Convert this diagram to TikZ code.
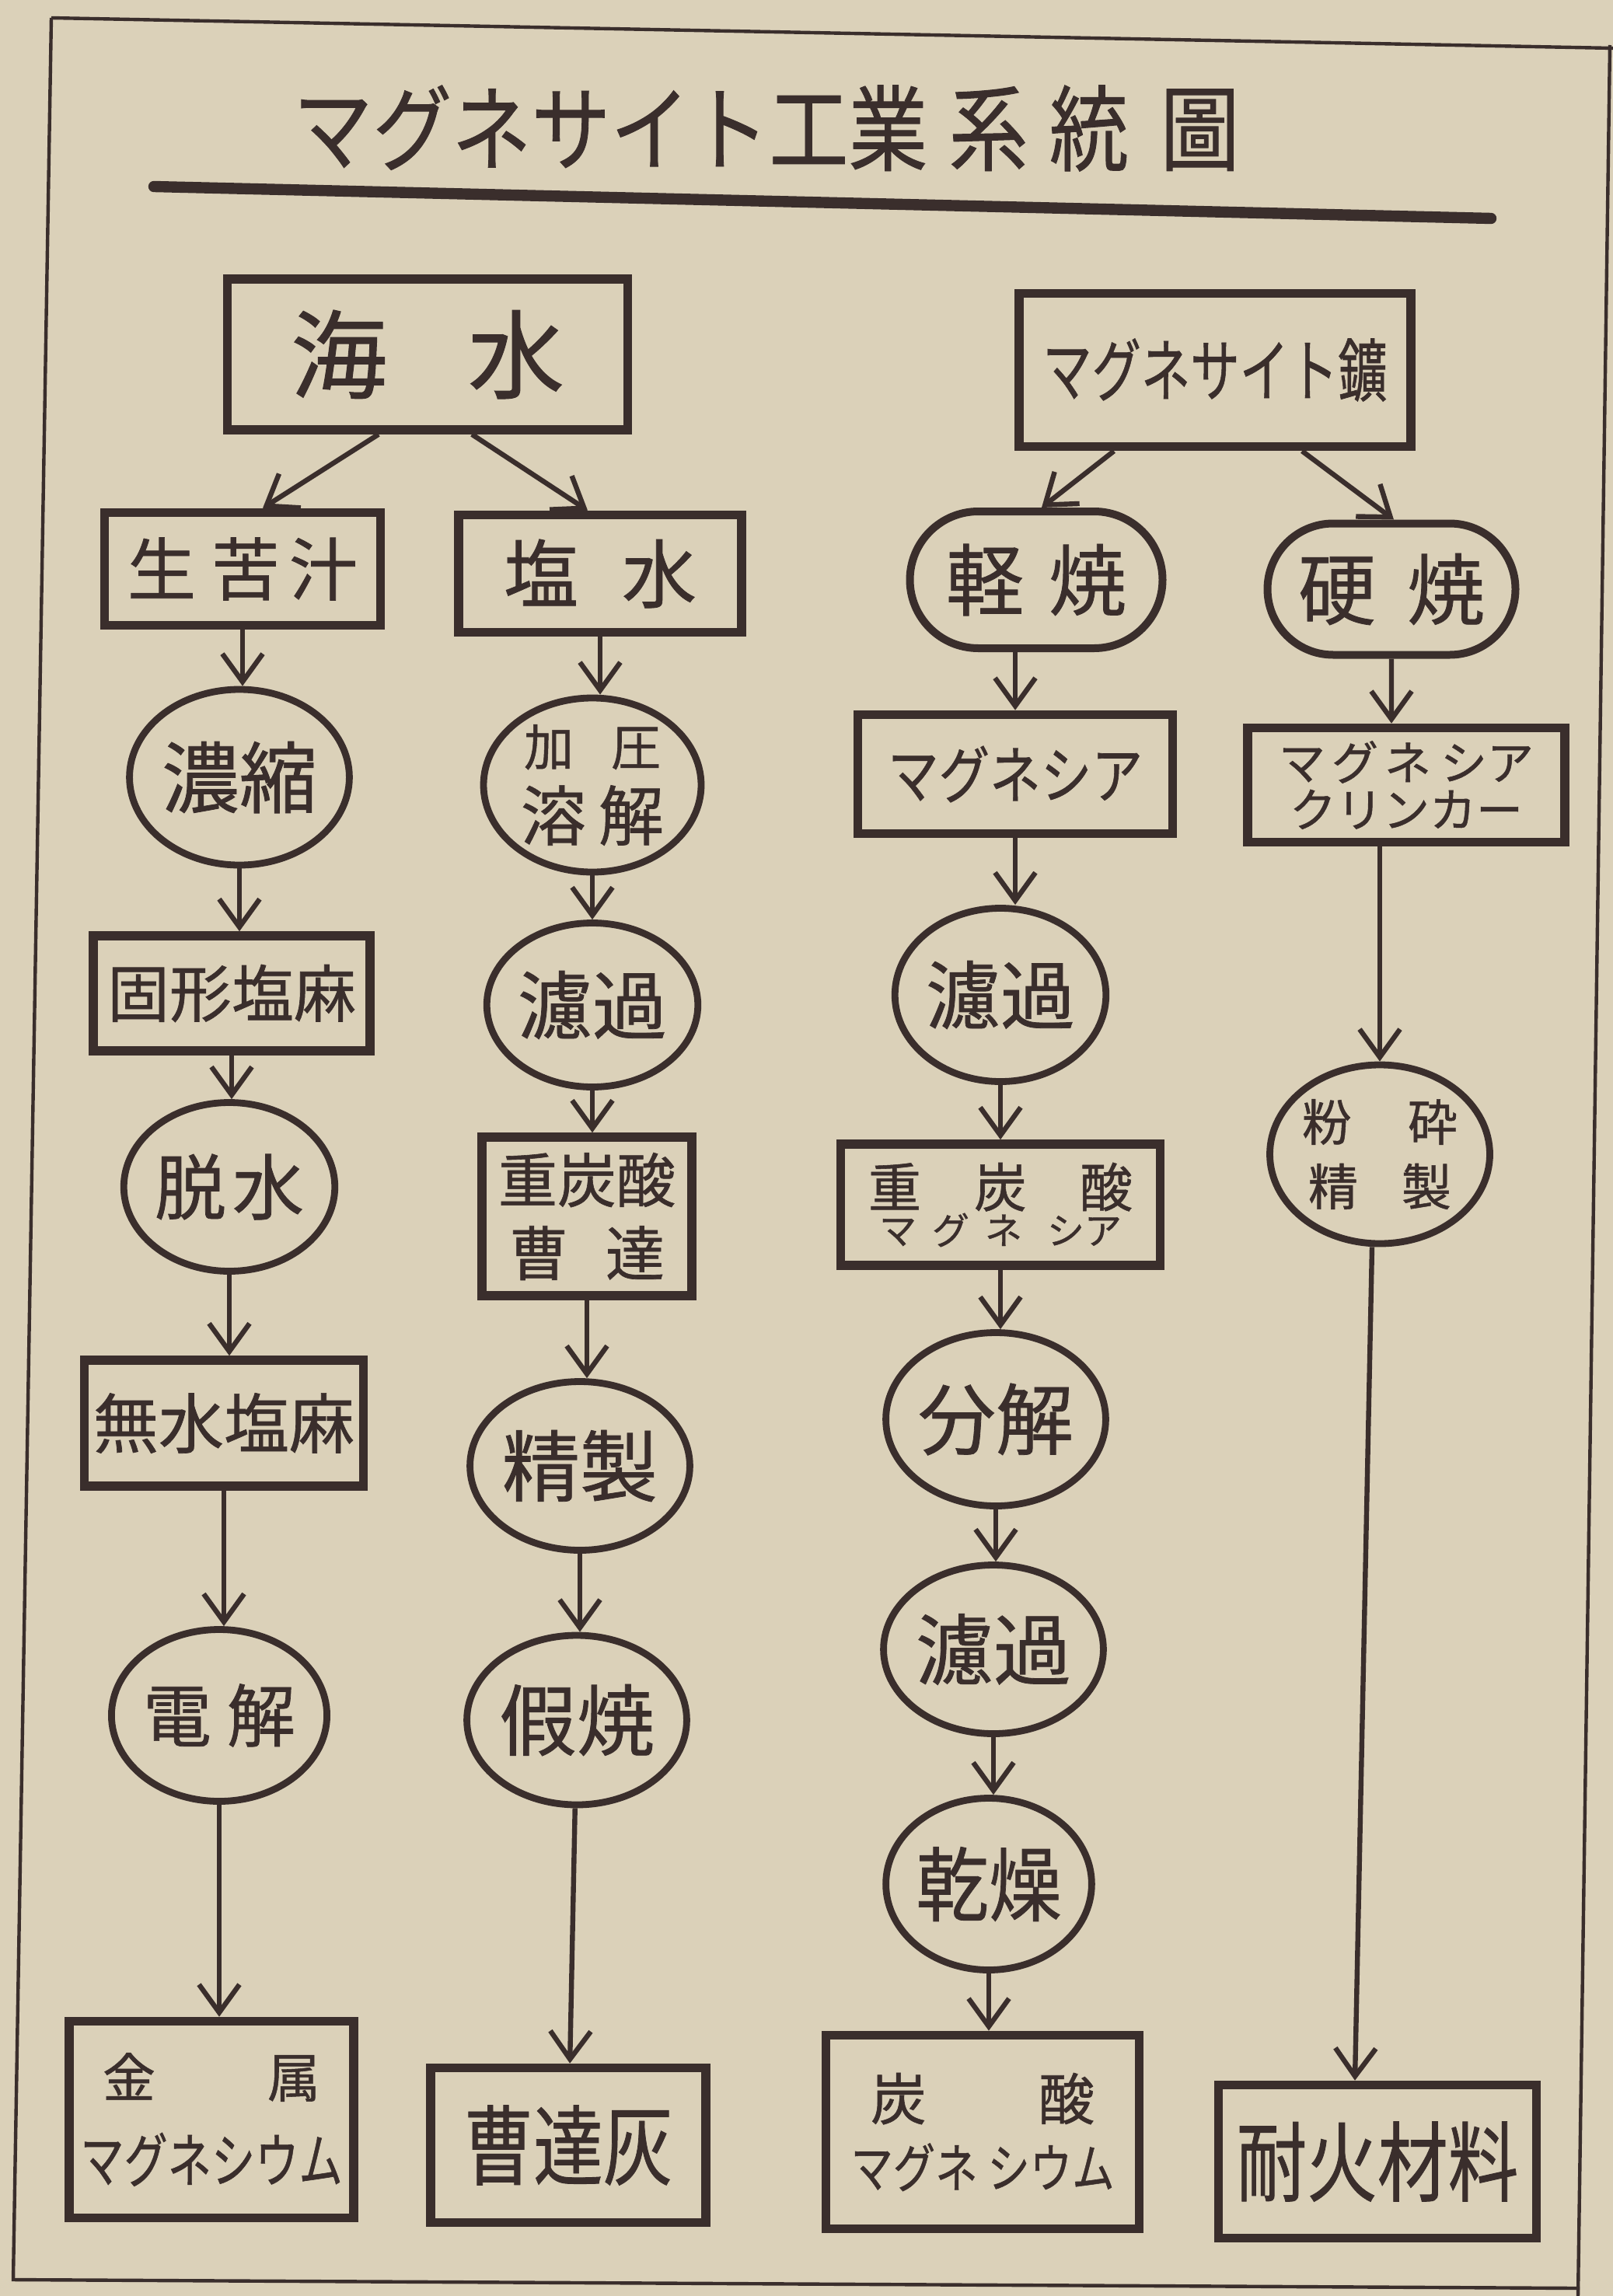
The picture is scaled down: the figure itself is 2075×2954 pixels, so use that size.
\documentclass[tikz,border=0pt]{standalone}
\usepackage{fontspec}
\usepackage{graphicx}
\setmainfont{Noto Sans CJK JP}[FakeBold=0.8]
\usetikzlibrary{arrows.meta,shapes.geometric,shapes.misc}
\definecolor{bgc}{RGB}{219,209,185}
\definecolor{inkc}{RGB}{58,46,44}
\newcommand{\fsz}[1]{\fontsize{#1pt}{#1pt}\selectfont}
\newcommand{\hs}[1]{\hspace{#1pt}}
\newcommand{\xs}[2]{\scalebox{#1}[1]{#2}}
\tikzset{
  bx/.style 2 args={draw=inkc, line width=2.9pt, rectangle, inner sep=0pt,
    minimum width=#1*0.25pt, minimum height=#2*0.25pt, align=center},
  el/.style 2 args={draw=inkc, line width=2.2pt, ellipse, inner sep=0pt,
    minimum width=#1*0.25pt, minimum height=#2*0.25pt, align=center},
  st/.style 2 args={draw=inkc, line width=2.5pt, rounded rectangle, inner sep=0pt,
    minimum width=#1*0.25pt, minimum height=#2*0.25pt, align=center},
  arr/.style={draw=inkc, line width=1.6pt,
    -{Straight Barb[length=9pt,width=13pt,line width=1.6pt]}},
}
\begin{document}
\begin{tikzpicture}[x=0.25pt,y=-0.25pt,color=inkc,text=inkc]
\fill[bgc] (0,0) rectangle (2075,2954);
\useasboundingbox (0,0) rectangle (2075,2954);
% frame
\draw[line width=1.1pt] (66,23) -- (2075,62);
\draw[line width=1.1pt] (66,23) -- (17,2933) -- (2032,2944);
\draw[line width=1.1pt] (2071,58) -- (2030,2954);
% title
\node (title) at (986,165) {\fsz{30}\xs{0.85}{マグネサイト工業\hs{8}系\hs{8}統\hs{12}圖}};
\draw[line width=3.6pt, line cap=round] (198,240) -- (1918,281);

% column 1 & 2 (sea water)
\node[bx={515}{194}] (sea) at (550,456) {\fsz{31}海\hs{26}水};
\node[bx={355}{145}] (nigari) at (312,732) {\fsz{22}生\hs{5}苦\hs{3}汁};
\node[bx={364}{151}] (ensui) at (772,738) {\fsz{24}塩\hs{14}水};
\node[el={280}{226}] (noshuku) at (308,1000) {\fsz{25}濃縮};
\node[el={280}{224}] (kaatsu) at (762,1010) {\fsz{16}加\hs{12}圧\\[4pt]{\fsz{21}溶\hs{4}解}};
\node[bx={356}{148}] (kokei) at (298,1278) {\fsz{20}固形塩麻};
\node[el={223}{211}] (roka1) at (762,1293) {\fsz{24}濾過};
\node[el={224}{217}] (dassui) at (295,1527) {\fsz{23}脱\hs{2}水};
\node[bx={270}{204}] (jutansan) at (755,1565) {\fsz{19}重炭酸\\[5pt]{\fsz{19}曹\hs{12}達}};
\node[bx={359}{162}] (musui) at (288,1831) {\fsz{21}無水塩麻};
\node[el={224}{217}] (seisei) at (746,1886) {\fsz{25}精製};
\node[el={221}{221}] (denkai) at (282,2207) {\fsz{22}電\hs{5}解};
\node[el={233}{218}] (kasho) at (742,2213) {\fsz{25}假焼};
\node[bx={366}{253}] (kinzoku) at (272,2727) {\fsz{17}金\hs{36}属\\[9pt]{\fsz{19}\xs{0.74}{マグネシウム}}};
\node[bx={354}{199}] (soda) at (731,2760) {\fsz{28}\xs{0.8}{曹達灰}};

% column 3 & 4 (magnesite ore)
\node[bx={504}{197}] (ore) at (1563,476) {\fsz{22}\xs{0.72}{マグネサイト鑛}};
\node[st={325}{176}] (keisho) at (1333,746) {\fsz{25}軽\hs{8}焼};
\node[st={319}{169}] (kosho) at (1790,758) {\fsz{25}硬\hs{10}焼};
\node[bx={405}{153}] (magnesia) at (1306,996) {\fsz{20}\xs{0.82}{マグネシア}};
\node[bx={408}{147}] (clinker) at (1809,1010) {\fsz{15}マ\hs{2}グ\hs{2}ネ\hs{3}シア\\[1pt]{\fsz{15}クリンカー}};
\node[el={208}{223}] (roka2) at (1287,1280) {\fsz{24}濾過};
\node[el={283}{230}] (funsai) at (1775,1485) {\fsz{16}粉\hs{18}砕\\[5pt]{\fsz{16}精\hs{14}製}};
\node[bx={411}{156}] (jutanmg) at (1287,1550) {\fsz{17}重\hs{17}炭\hs{17}酸\\[0pt]{\fsz{12}マ\hs{5}グ\hs{5}ネ\hs{8}シア}};
\node[el={226}{223}] (bunkai) at (1281,1826) {\fsz{25}分解};
\node[el={226}{217}] (roka3) at (1278,2122) {\fsz{25}濾過};
\node[el={226}{221}] (kanso) at (1272,2424) {\fsz{26}\xs{0.9}{乾燥}};
\node[bx={403}{249}] (tansanmg) at (1264,2743) {\fsz{18}炭\hs{36}酸\\[5pt]{\fsz{17}\xs{0.8}{マグネ\hs{4}シウム}}};
\node[bx={409}{197}] (taika) at (1772,2781) {\fsz{28}\xs{0.81}{耐火材料}};

% connectors
\draw[arr] ([xshift=-15.75pt]sea.south) -- ([xshift=6.5pt]nigari.north);
\draw[arr] ([xshift=14.25pt]sea.south) -- ([xshift=-4pt]ensui.north);
\draw[arr] (nigari) -- (nigari |- noshuku.north);
\draw[arr] (noshuku) -- (noshuku |- kokei.north);
\draw[arr] (kokei) -- (kokei |- dassui.north);
\draw[arr] (dassui) -- (dassui |- musui.north);
\draw[arr] (musui) -- (musui |- denkai.north);
\draw[arr] (denkai) -- (denkai |- kinzoku.north);
\draw[arr] (ensui) -- (ensui |- kaatsu.north);
\draw[arr] (kaatsu) -- (kaatsu |- roka1.north);
\draw[arr] (roka1) -- (roka1 |- jutansan.north);
\draw[arr] (jutansan) -- (jutansan |- seisei.north);
\draw[arr] (seisei) -- (seisei |- kasho.north);
\draw[arr] (kasho) -- (soda);

\draw[arr] ([xshift=-32.5pt]ore.south) -- ([xshift=1.75pt]keisho.north);
\draw[arr] ([xshift=28pt]ore.south) -- ([xshift=0.75pt]kosho.north);
\draw[arr] (magnesia |- keisho.south) -- (magnesia);
\draw[arr] (magnesia) -- (magnesia |- roka2.north);
\draw[arr] (roka2) -- (roka2 |- jutanmg.north);
\draw[arr] (jutanmg) -- (jutanmg |- bunkai.north);
\draw[arr] (bunkai) -- (bunkai |- roka3.north);
\draw[arr] (roka3) -- (roka3 |- kanso.north);
\draw[arr] (kanso) -- (kanso |- tansanmg.north);
\draw[arr] (kosho) -- (kosho |- clinker.north);
\draw[arr] (funsai |- clinker.south) -- (funsai);
\draw[arr] ([xshift=-2.5pt]funsai.south) -- ([xshift=-7.25pt]taika.north);
\end{tikzpicture}
\end{document}
